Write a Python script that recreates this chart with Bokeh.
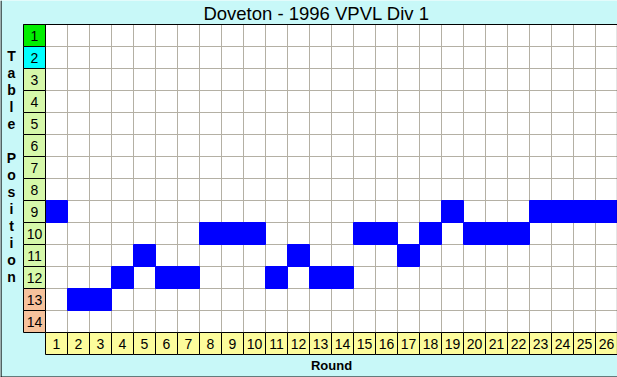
from bokeh.plotting import figure
from bokeh.models import Range1d
from bokeh.core.properties import value
from bokeh.embed import file_html
from bokeh.resources import INLINE

# ---- data ----
title_text = "Doveton - 1996 VPVL Div 1"
x_title = "Round"
y_title = "Table Position"
rounds = list(range(1, 27))
positions = [9, 13, 13, 12, 11, 12, 12, 10, 10, 10, 12, 11, 12, 12,
             10, 10, 11, 10, 9, 10, 10, 10, 9, 9, 9, 9]
table_rows = list(range(1, 15))
row_colors = ["#00ee00", "#00ffff"] + ["#d6f8aa"] * 10 + ["#f6c29c"] * 2

# ---- layout helpers (pixel -> data units) ----
W, H = 617, 377
cell = 22.0
left_px, top_px = 45, 24
x0 = 0.5 - left_px / cell
x1 = x0 + W / cell
y0 = 0.5 - top_px / cell
y1 = y0 + H / cell


def px_x(px):
    return x0 + px / cell


def px_y(py):
    return y0 + py / cell


n_r = len(rounds)
n_p = len(table_rows)
bg = "#c8f8f8"
font = value("Liberation Sans")

p = figure(width=W, height=H, x_range=Range1d(x0, x1), y_range=Range1d(y1, y0),
           output_backend="svg", toolbar_location=None, min_border=0,
           x_axis_location=None, y_axis_location=None)
p.grid.visible = False
p.outline_line_color = None
p.background_fill_color = bg
p.border_fill_color = bg

# white plot area
p.quad(left=[0.5], right=[n_r + 0.5], top=[0.5], bottom=[n_p + 0.5],
       fill_color="white", line_color=None)

# grid lines
gx = [k + 0.5 for k in range(n_r + 1)]
p.segment(x0=gx, y0=[0.5] * len(gx), x1=gx, y1=[n_p + 0.5] * len(gx),
          line_color="#b4b0a4", line_width=1)
gy = [k + 0.5 for k in range(n_p + 1)]
p.segment(x0=[0.5] * len(gy), y0=gy, x1=[n_r + 0.5] * len(gy), y1=gy,
          line_color="#b4b0a4", line_width=1)

# position cells
p.rect(x=rounds, y=positions, width=1, height=1, fill_color="#0000ff",
       line_color="#0000ff", line_width=1)

# row label cells
p.rect(x=[0] * n_p, y=table_rows, width=1, height=1, fill_color=row_colors,
       line_color="black", line_width=1)
p.text(x=[0] * n_p, y=table_rows, text=[str(r) for r in table_rows],
       text_align="center", text_baseline="middle", text_font=font,
       text_font_size="14px", text_color="black")

# column label cells
p.rect(x=rounds, y=[n_p + 1] * n_r, width=1, height=1, fill_color="#fcfc9c",
       line_color="black", line_width=1)
p.text(x=rounds, y=[n_p + 1] * n_r, text=[str(r) for r in rounds],
       text_align="center", text_baseline="middle", text_font=font,
       text_font_size="14px", text_color="black")

# frame lines
p.segment(x0=[-0.5], y0=[0.5], x1=[n_r + 0.5], y1=[0.5], line_color="black", line_width=1.2)
p.segment(x0=[n_r + 0.5], y0=[0.5], x1=[n_r + 0.5], y1=[n_p + 1.5], line_color="black", line_width=1.2)
# outer left / bottom border
p.segment(x0=[px_x(0.5)], y0=[y0], x1=[px_x(0.5)], y1=[y1], line_color="black", line_width=1.2)
p.segment(x0=[x0], y0=[px_y(376.5)], x1=[x1], y1=[px_y(376.5)], line_color="black", line_width=1.2)

# title
p.text(x=[px_x(316)], y=[px_y(12.5)], text=[title_text], text_align="center",
       text_baseline="middle", text_font=font, text_font_size="18.5px", text_color="black")

# x axis title
p.text(x=[(n_r + 1) / 2], y=[px_y(365)], text=[x_title], text_align="center",
       text_baseline="middle", text_font=font, text_font_size="13px",
       text_font_style="bold", text_color="black")

# y axis title: stacked letters
letters = list(y_title)
p.text(x=[px_x(11)] * len(letters),
       y=[px_y(55 + 17 * i) for i in range(len(letters))],
       text=letters, text_align="center", text_baseline="middle", text_font=font,
       text_font_size="14px", text_font_style="bold", text_color="black")

open("out.html", "w").write(file_html(p, INLINE))
